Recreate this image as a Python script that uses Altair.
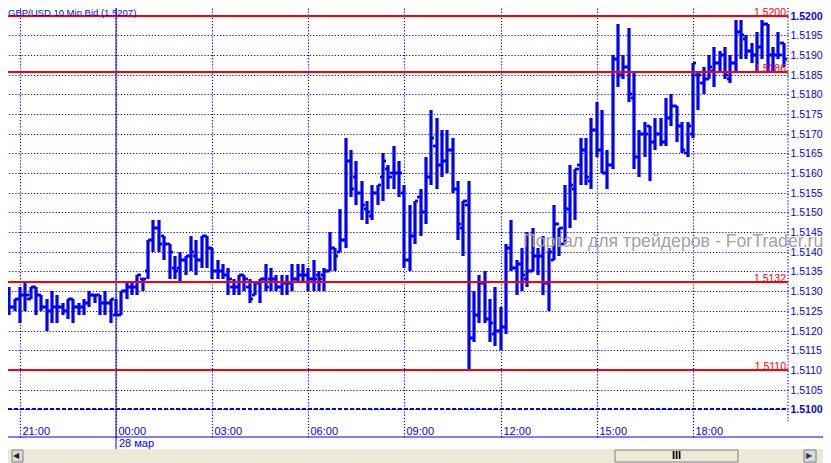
import altair as alt
import pandas as pd

# Prices are kept as pips above the base quote.
BASE = 1.51
highs = [27,26,31,28,31,32,31,31,29,28,30,29,27,28,28,27,28,30,29,29,30,28,28,30,32,32,34,33,43,48,
         48,44,42,39,40,39,44,43,44,44,41,38,37,36,33,34,34,33,32,33,37,36,34,34,34,37,37,37,36,38,
         35,36,45,41,51,69,66,63,58,53,57,57,65,62,67,63,57,52,53,56,64,76,74,71,71,69,58,53,58,30,
         34,35,28,31,26,42,48,38,41,45,46,41,44,41,52,46,57,62,61,69,69,74,78,76,66,90,98,90,97,86,
         71,73,72,74,74,79,80,77,73,73,88,86,87,90,92,91,92,90,99,99,95,93,96,99,98,92,96,93]
lows  = [23,21,24,25,22,25,28,24,25,20,22,22,24,23,22,24,24,26,27,24,24,22,24,24,28,29,29,30,33,40,
         40,38,33,33,32,34,35,34,36,36,33,33,33,29,29,29,30,27,29,27,30,30,30,29,29,30,32,32,30,30,
         30,30,35,35,40,41,54,52,48,47,48,52,53,56,56,54,36,35,42,44,47,57,56,59,60,55,43,39,10,17,
         22,22,17,16,15,19,35,29,30,31,35,34,29,25,38,39,42,46,48,57,57,56,64,60,56,61,82,84,78,61,
         59,64,58,66,67,67,72,68,65,64,69,76,80,84,82,86,84,83,86,89,89,88,86,89,86,86,89,87]
opens = [25,24,25,26,28,29,28,31,29,26,25,26,26,25,28,26,26,27,29,29,27,27,24,24,30,31,31,33,35,43,
         46,44,42,36,36,38,39,39,38,44,41,35,35,34,31,31,34,31,29,32,33,33,33,31,32,32,33,34,34,33,
         34,34,35,41,40,43,63,59,55,51,49,55,59,61,60,60,55,38,44,54,50,59,67,62,63,66,56,46,52,18,
         24,32,23,19,20,21,41,36,37,33,35,39,39,32,38,47,42,51,56,62,66,58,71,66,60,62,89,85,87,79,
         64,70,72,68,70,68,74,77,72,65,70,85,83,84,86,88,90,84,88,96,94,91,90,92,98,90,90,93]
closes = [24,23,26,28,29,29,31,29,26,25,26,26,25,28,26,26,27,29,29,27,27,28,24,30,31,31,34,33,43,46,
          42,42,40,35,38,39,40,38,44,41,35,35,34,33,31,34,33,28,32,33,31,33,31,32,32,33,34,34,33,33,
          33,35,41,39,43,63,56,55,52,50,55,57,63,59,60,60,38,44,53,50,59,69,62,63,66,56,47,53,18,24,
          32,23,22,20,21,41,36,37,34,35,39,39,32,40,47,46,51,57,61,66,59,71,66,60,62,89,85,87,80,64,
          70,70,68,70,68,74,77,72,66,72,88,85,84,87,88,90,85,88,96,95,91,90,92,98,90,90,90,89]
first_bar = -4

time_labels = ["21:00", "00:00", "03:00", "06:00", "09:00", "12:00", "15:00", "18:00"]
time_bars = [0, 18, 36, 54, 72, 90, 108, 126]
price_ticks = [round(1.51 + i * 0.0005, 4) for i in range(21)]
level_values = [1.5200, 1.51858, 1.51323, 1.51099]
level_labels = ["1.5200", "1.5186", "1.5132", "1.5110"]

n = len(highs)
assert n == len(lows) == len(opens) == len(closes), (n, len(lows), len(opens), len(closes))
df = pd.DataFrame({
    "bar": [first_bar + i for i in range(n)],
    "high": [BASE + v / 10000 for v in highs],
    "low": [BASE + v / 10000 for v in lows],
    "open": [BASE + v / 10000 for v in opens],
    "close": [BASE + v / 10000 for v in closes],
})
df["left"] = df["bar"] - 0.62
df["right"] = df["bar"] + 0.62

BLUE = "#0000ff"
RED = "#ff0000"
FONT = "Liberation Sans"
xs = alt.Scale(domain=[-2.247, 143.82], range=[0, 780], round=True, nice=False, zero=False)
ys = alt.Scale(domain=[1.509293, 1.520198], range=[429, 0], round=True, nice=False, zero=False)

label_expr = "[" + ",".join("'%s'" % t for t in time_labels) + "][datum.value/18]"
x_axis = alt.Axis(values=time_bars, grid=True, gridColor=BLUE, gridDash=[1.2, 1.9], gridWidth=1.2,
                  domain=False, ticks=False, tickSize=0, title=None, labelExpr=label_expr,
                  labelColor=BLUE, labelFont=FONT, labelFontSize=11, labelAlign="left",
                  labelBaseline="bottom", labelPadding=-1, labelOffset=2, labelOverlap=False,
                  labelFlush=False)
y_axis = alt.Axis(values=price_ticks, tickCount=40, orient="right", format=".4f", grid=True, gridColor=BLUE,
                  gridDash=[1.2, 1.9], gridWidth=1.2, domain=False, ticks=False, tickSize=0, title=None,
                  labelColor=BLUE, labelFont=FONT, labelFontSize=10.5, labelPadding=2,
                  labelOverlap=False, labelFlush=False,
                  labelFontWeight=alt.condition("abs(datum.value-1.52)<0.00001 || abs(datum.value-1.51)<0.00001",
                                                alt.value("bold"), alt.value("normal")))

stems = alt.Chart(df).mark_rule(color=BLUE, strokeWidth=3.2, clip=True).encode(
    x=alt.X("bar:Q", scale=xs, axis=x_axis),
    y=alt.Y("low:Q", scale=ys, axis=y_axis),
    y2="high:Q",
)
open_ticks = alt.Chart(df).mark_rule(color=BLUE, strokeWidth=2.8, clip=True).encode(
    x=alt.X("left:Q", scale=xs), x2="bar:Q",
    y=alt.Y("open:Q", scale=ys),
)
close_ticks = alt.Chart(df).mark_rule(color=BLUE, strokeWidth=2.8, clip=True).encode(
    x=alt.X("bar:Q", scale=xs), x2="right:Q",
    y=alt.Y("close:Q", scale=ys),
)

solid_day = alt.Chart(pd.DataFrame({"bar": [18]})).mark_rule(color=BLUE, strokeWidth=1).encode(
    x=alt.X("bar:Q", scale=xs), y=alt.value(0), y2=alt.value(441))
base_line = alt.Chart(pd.DataFrame({"p": [1.51]})).mark_rule(color=BLUE, strokeWidth=2, strokeDash=[4, 2]).encode(
    y=alt.Y("p:Q", scale=ys), x=alt.value(0), x2=alt.value(780))

levels_df = pd.DataFrame({"level": level_values, "label": level_labels})
levels = alt.Chart(levels_df).mark_rule(color=RED, strokeWidth=2).encode(
    y=alt.Y("level:Q", scale=ys), x=alt.value(0), x2=alt.value(780))
level_text = alt.Chart(levels_df).mark_text(color=RED, font=FONT, fontSize=10.5, align="right", baseline="alphabetic", dy=0).encode(
    y=alt.Y("level:Q", scale=ys), x=alt.value(778), text="label:N")

def label(text, x, y, **kw):
    return alt.Chart(pd.DataFrame({"t": [text]})).mark_text(font=FONT, align="left", baseline="middle", **kw).encode(
        x=alt.value(x), y=alt.value(y), text="t:N")

def box(x, x2, y, y2, fill, stroke=None):
    mk = dict(color=fill)
    if stroke:
        mk.update(stroke=stroke, strokeWidth=1)
    return alt.Chart(pd.DataFrame({"a": [0]})).mark_rect(**mk).encode(
        x=alt.value(x), x2=alt.value(x2), y=alt.value(y), y2=alt.value(y2))

title_text = label("GBP/USD 10 Min Bid (1.5207)", 0, 5, color=BLUE, fontSize=9.5)
watermark = label("Портал для трейдеров - ForTrader.ru", 515, 234, color="#a89f9f", fontSize=17.7)
day_text = label("28 мар", 111, 436, color=BLUE, fontSize=11)

right_edge = alt.Chart(pd.DataFrame({"a": [0]})).mark_rule(color=BLUE, strokeWidth=1.2, strokeDash=[1.2, 1.9]).encode(
    x=alt.value(780), y=alt.value(0), y2=alt.value(413))
bottom_line = alt.Chart(pd.DataFrame({"a": [0]})).mark_rule(color=BLUE).encode(
    x=alt.value(0), x2=alt.value(815), y=alt.value(429))

toolbar = box(0, 815, 441, 455, "#ece9d8")
thumb = box(607, 730, 442, 454, "#ece9d8", "#808080")
grip = label("III", 664, 448, color="#000000", fontSize=11, fontWeight="bold")
left_btn = box(4, 15, 442, 454, "#dcdcdc", "#808080")
left_arrow = label("◀", 5, 448, color="#222222", fontSize=8)
right_btn = box(796, 808, 442, 454, "#dcdcdc", "#808080")
right_arrow = label("▶", 798, 448, color="#224455", fontSize=8)

chart = alt.layer(
    stems, open_ticks, close_ticks, solid_day, base_line, right_edge, bottom_line, levels, level_text,
    title_text, watermark, day_text, toolbar, thumb, grip, left_btn, left_arrow, right_btn, right_arrow,
).properties(
    width=780, height=429,
    autosize=alt.AutoSizeParams(type="none"),
    padding={"left": 0, "top": 0, "right": 35, "bottom": 26},
    background="white",
).configure_view(stroke=None)

chart.save("out.html", embed_options={"renderer": "svg", "actions": False})
